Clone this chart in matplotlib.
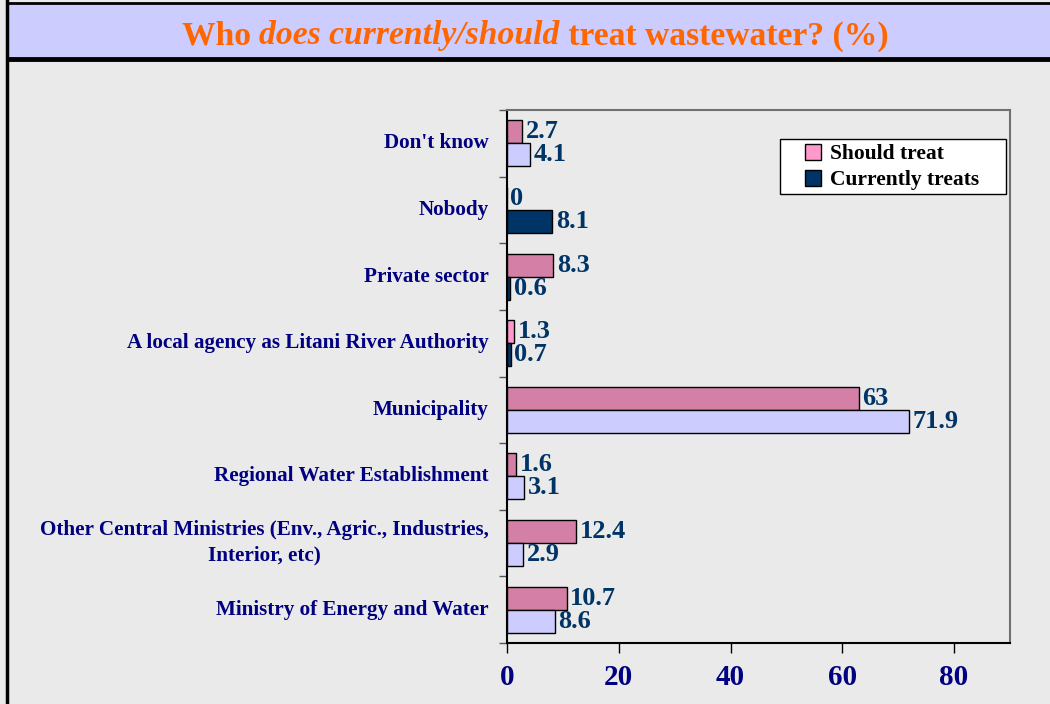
import matplotlib
matplotlib.use("Agg")
import matplotlib.pyplot as plt
from matplotlib.patches import Rectangle, Patch
from matplotlib.lines import Line2D
from matplotlib.offsetbox import TextArea, HPacker, AnnotationBbox
import numpy as np

categories = [
    "Don't know",
    "Nobody",
    "Private sector",
    "A local agency as Litani River Authority",
    "Municipality",
    "Regional Water Establishment",
    "Other Central Ministries (Env., Agric., Industries,\nInterior, etc)",
    "Ministry of Energy and Water",
]
should_treat = [2.7, 0, 8.3, 1.3, 63, 1.6, 12.4, 10.7]
currently_treats = [4.1, 8.1, 0.6, 0.7, 71.9, 3.1, 2.9, 8.6]
should_labels = ["2.7", "0", "8.3", "1.3", "63", "1.6", "12.4", "10.7"]
current_labels = ["4.1", "8.1", "0.6", "0.7", "71.9", "3.1", "2.9", "8.6"]
x_ticks = [0, 20, 40, 60, 80]

MAUVE = "#D47FA6"
PINK = "#FF99CC"
LAV = "#CCCCFF"
NAVY = "#003366"
should_colors = [MAUVE, MAUVE, MAUVE, PINK, MAUVE, MAUVE, MAUVE, MAUVE]
current_colors = [LAV, NAVY, NAVY, NAVY, LAV, LAV, LAV, LAV]

BG = "#EAEAEA"
SERIF = ["Liberation Serif", "DejaVu Serif"]

W, H = 1050, 704
fig = plt.figure(figsize=(W / 100, H / 100), dpi=100, facecolor=BG)

def fx(px):
    return px / W

def fy(py):
    return 1 - py / H

# Banner
fig.add_artist(Rectangle((fx(8), fy(57)), fx(W - 8), (57 - 3) / H,
                         transform=fig.transFigure, facecolor=LAV, edgecolor="none", zorder=0))
fig.add_artist(Line2D([fx(8), 1], [fy(3), fy(3)], transform=fig.transFigure, color="black", lw=2))
fig.add_artist(Line2D([fx(10), 1], [fy(58.5), fy(58.5)], transform=fig.transFigure, color="black", lw=3.5))
fig.add_artist(Line2D([fx(7), fx(7)], [0, 1], transform=fig.transFigure, color="black", lw=2.5))

# Title with mixed italic
tprops = dict(color="#FF6600", fontweight="bold", fontsize=24.2, family=SERIF)
parts = [
    TextArea("Who ", textprops=dict(**tprops)),
    TextArea("does currently/should", textprops=dict(**tprops, fontstyle="italic")),
    TextArea(" treat wastewater? (%)", textprops=dict(**tprops)),
]
pack = HPacker(children=parts, align="baseline", pad=0, sep=0)
ab = AnnotationBbox(pack, (fx(535), fy(36)), xycoords="figure fraction", frameon=False,
                    box_alignment=(0.5, 0.5))
fig.add_artist(ab)

# Axes
ax = fig.add_axes([fx(507), fy(643), fx(1010 - 507), (643 - 110) / H])
ax.set_facecolor(BG)

n = len(categories)
y = np.arange(n)
h = 0.345
off = 0.1725
ax.barh(y - off, should_treat, height=h, color=should_colors, edgecolor="black", linewidth=1, zorder=3)
ax.barh(y + off, currently_treats, height=h, color=current_colors, edgecolor="black", linewidth=1, zorder=3)

for i in range(n):
    ax.annotate(should_labels[i], (should_treat[i], y[i] - off), xytext=(2.5, 0), textcoords="offset points",
                va="center", ha="left", color=NAVY, fontsize=19, fontweight="bold", family=SERIF)
    ax.annotate(current_labels[i], (currently_treats[i], y[i] + off), xytext=(2.5, 0), textcoords="offset points",
                va="center", ha="left", color=NAVY, fontsize=19, fontweight="bold", family=SERIF)

ax.set_xlim(0, 90)
ax.set_ylim(n - 0.5, -0.5)
ax.set_xticks(x_ticks)
ax.set_xticklabels([str(t) for t in x_ticks], color="#000080", fontsize=21, fontweight="bold", family=SERIF)
ax.tick_params(axis="x", length=7, width=1, direction="out", pad=8, color="black")

# y ticks at category boundaries, labels at centers
ax.set_yticks(np.arange(n + 1) - 0.5)
ax.set_yticklabels([""] * (n + 1))
ax.tick_params(axis="y", length=6, width=1, direction="out", color="#555555")
for i, c in enumerate(categories):
    ax.annotate(c, (0, y[i]), xycoords=("axes fraction", "data"), xytext=(-13, 0),
                textcoords="offset points", ha="right", va="center", multialignment="center",
                linespacing=1.35,
                color="#000080", fontsize=15.2, fontweight="bold", family=SERIF)

for s in ["left", "bottom"]:
    ax.spines[s].set_color("black")
    ax.spines[s].set_linewidth(1.5)
for s in ["top", "right"]:
    ax.spines[s].set_color("#707070")
    ax.spines[s].set_linewidth(1.5)

# Legend: manual frame + frameless legend
fig.add_artist(Rectangle((fx(780), fy(194)), fx(1006 - 780), (194 - 139) / H,
                         transform=fig.transFigure, facecolor="white", edgecolor="black", lw=1, zorder=5))
handles = [Patch(facecolor=PINK, edgecolor="black", label="Should treat"),
           Patch(facecolor=NAVY, edgecolor="black", label="Currently treats")]
leg = fig.legend(handles=handles, loc="upper left", bbox_to_anchor=(fx(805), fy(144)),
                 frameon=False, borderaxespad=0, handlelength=0.75, handleheight=0.75,
                 handletextpad=0.4, borderpad=0.0, labelspacing=0.25,
                 prop=dict(family=SERIF, weight="bold", size=15.5))
leg.set_zorder(6)

fig.savefig("out.png", dpi=100, facecolor=BG)
